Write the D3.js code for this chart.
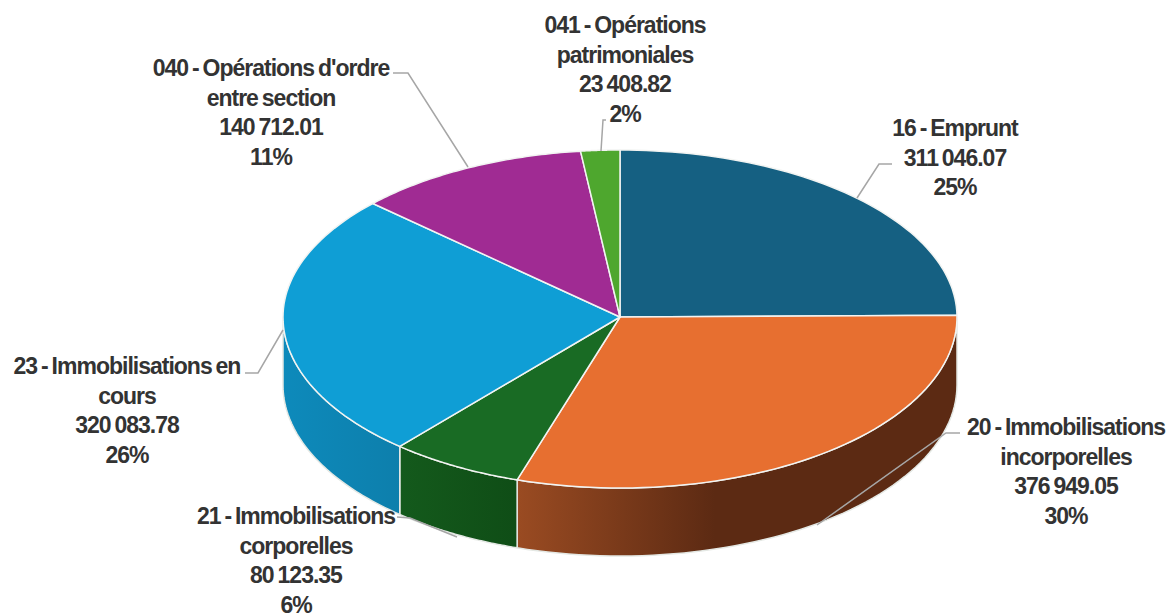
<!DOCTYPE html>
<html>
<head>
<meta charset="utf-8">
<script src="https://cdn.jsdelivr.net/npm/d3@7"></script>
<style>
body { margin: 0; background: #fff; }
text { font-family: "Liberation Sans", Arial, sans-serif; font-size: 23px; font-weight: bold; fill: #333; letter-spacing: -1px; word-spacing: -1.5px; }
</style>
</head>
<body>
<script>
// slices go clockwise starting from 12 o'clock
var codes = ['16', '20', '21', '23', '040', '041'];
var amounts = [311046.07, 376949.05, 80123.35, 320083.78, 140712.01, 23408.82];
var labels = [
  ['16 - Emprunt', '311 046.07', '25%'],
  ['20 - Immobilisations', 'incorporelles', '376 949.05', '30%'],
  ['21 - Immobilisations', 'corporelles', '80 123.35', '6%'],
  ['23 - Immobilisations en', 'cours', '320 083.78', '26%'],
  ['040 - Opérations d\'ordre', 'entre section', '140 712.01', '11%'],
  ['041 - Opérations', 'patrimoniales', '23 408.82', '2%']
];
var topColors = ['#156082', '#e76f30', '#196b24', '#0f9ed5', '#a02b93', '#4ea72e'];
var wallFrom = ['#156082', '#9a4b22', '#145a1c', '#0d8abb', '#a02b93', '#4ea72e'];
var wallTo = ['#156082', '#5c2a13', '#0f4d16', '#0d7fac', '#a02b93', '#4ea72e'];

var width = 1170, height = 614;
// front half of the ellipse is a bit fatter than the back, perspective
var cx = 620, cy = 317, rx = 337, ryBack = 167, ryFront = 171, depth = 68;

var svg = d3.select('body').append('svg').attr('width', width).attr('height', height);
var defs = svg.append('defs');

var slices = d3.pie().sort(null)(amounts);

var x = function(a) { return cx + rx * Math.sin(a); };
var y = function(a) {
  var c = Math.cos(a);
  return cy - (c > 0 ? ryBack : ryFront) * c;
};

var sample = function(a0, a1) {
  return d3.range(0, 61).map(function(i) { return a0 + (a1 - a0) * i / 60; });
};

// walls, only the front half of the ellipse shows
var wallPath = function(a0, a1) {
  var pts = sample(a0, a1);
  var p = d3.path();
  pts.forEach(function(a, i) {
    if (i == 0) p.moveTo(x(a), y(a)); else p.lineTo(x(a), y(a));
  });
  pts.reverse().forEach(function(a) { p.lineTo(x(a), y(a) + depth); });
  p.closePath();
  return p.toString();
};

slices.forEach(function(s, i) {
  var a0 = Math.max(s.startAngle, Math.PI / 2);
  var a1 = Math.min(s.endAngle, Math.PI * 1.5);
  if (a1 <= a0) return;
  var g = defs.append('linearGradient').attr('id', 'wall' + i)
    .attr('gradientUnits', 'userSpaceOnUse')
    .attr('x1', Math.min(x(a0), x(a1))).attr('x2', Math.max(x(a0), x(a1))).attr('y1', 0).attr('y2', 0);
  g.append('stop').attr('offset', 0).attr('stop-color', wallFrom[i]);
  g.append('stop').attr('offset', i == 1 ? 0.45 : 1).attr('stop-color', wallTo[i]);
  svg.append('path').attr('d', wallPath(a0, a1))
    .attr('fill', 'url(#wall' + i + ')')
    .attr('stroke', '#e4e8e4').attr('stroke-width', 1.5).attr('stroke-linejoin', 'round');
});

// top of the pie
var topPath = function(d) {
  var p = d3.path();
  p.moveTo(cx, cy);
  sample(d.startAngle, d.endAngle).forEach(function(a) { p.lineTo(x(a), y(a)); });
  p.closePath();
  return p.toString();
};
svg.append('g').selectAll('path').data(slices).enter().append('path')
  .attr('d', topPath)
  .attr('fill', function(d, i) { return topColors[i]; })
  .attr('stroke', '#f2f4f2').attr('stroke-width', 1.5).attr('stroke-linejoin', 'round');

var leaders = [
  [[857, 198], [879, 164], [892, 164]],
  [[817, 525], [946, 433], [960, 433]],
  [[397, 517], [410, 518], [457, 537]],
  [[283, 330], [258, 373], [245, 373]],
  [[468, 167], [408, 73], [393, 73]],
  [[601, 151], [603, 120], [606, 120]]
];
var labelX = [955, 1066, 296, 127, 271, 625];
var labelY = [136, 435, 524, 374, 76, 33];
var lineGap = 29.5;

svg.selectAll('path.leader').data(leaders).enter().append('path')
  .attr('class', 'leader')
  .attr('d', d3.line())
  .attr('fill', 'none').attr('stroke', '#a6a6a6').attr('stroke-width', 1.5);

labels.forEach(function(lines, i) {
  var t = svg.append('text').attr('text-anchor', 'middle');
  lines.forEach(function(l, j) {
    t.append('tspan').attr('x', labelX[i]).attr('y', labelY[i] + j * lineGap).text(l);
  });
});
</script>
</body>
</html>
